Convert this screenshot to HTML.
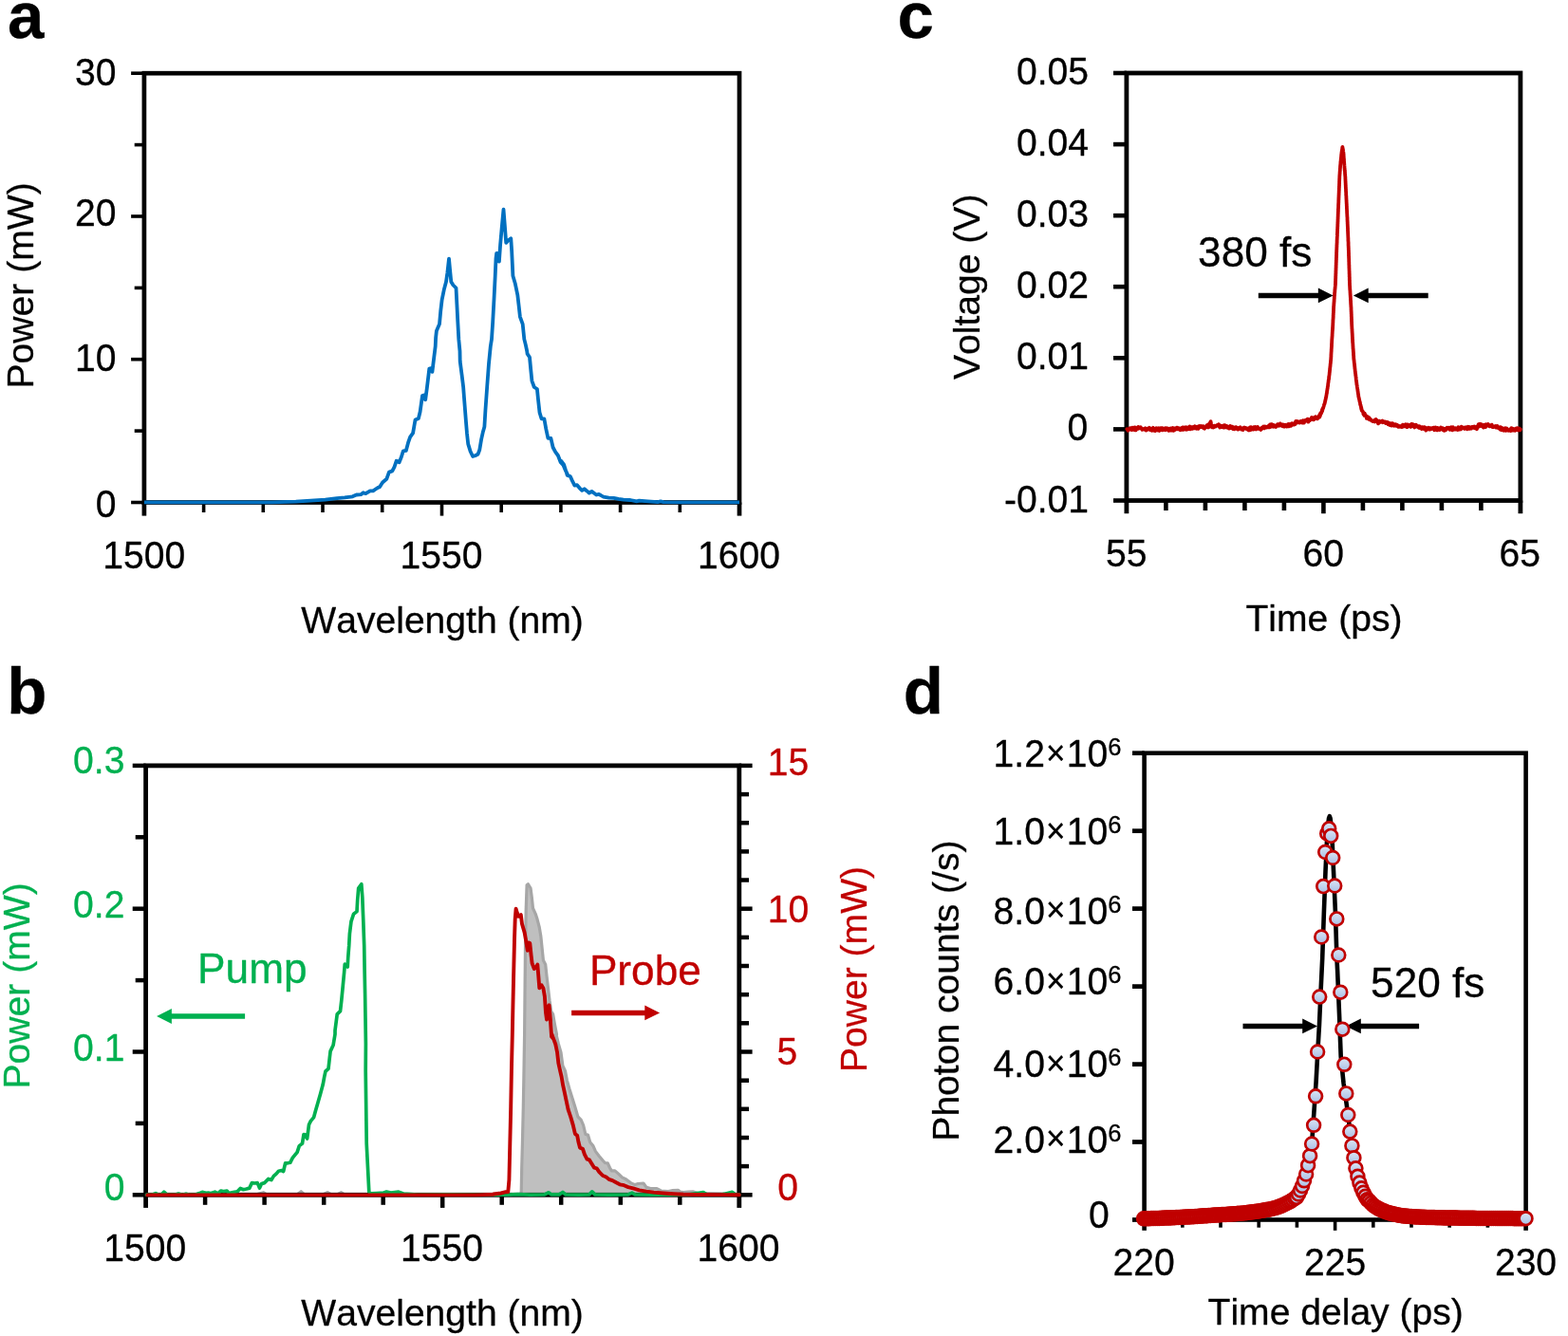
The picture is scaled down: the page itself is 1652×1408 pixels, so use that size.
<!DOCTYPE html>
<html lang="en">
<head>
<meta charset="utf-8">
<title>Figure: pump and probe spectra, pulse measurements</title>
<style>
html,body{margin:0;padding:0;background:#fff;}
body{width:1652px;height:1408px;overflow:hidden;}
svg{display:block;}
svg text{font-family:"Liberation Sans", sans-serif;font-size:39.1px;font-kerning:none;stroke:#000;stroke-width:0.3px;stroke-linejoin:round;}
svg text.pl{font-size:69px;font-weight:bold;}
svg text.an{font-size:44.2px;}
svg tspan.su{font-size:25.5px;}
svg tspan.mu{font-size:35px;}
svg text.g{fill:#00B050;stroke:#00B050;}
svg text.r{fill:#C00000;stroke:#C00000;}
</style>
</head>
<body>
<svg width="1652" height="1408" viewBox="0 0 1652 1408">
<defs>
<linearGradient id="mk" x1="0" y1="0" x2="0" y2="1"><stop offset="0" stop-color="#DCE6F5"/><stop offset="1" stop-color="#A9BFE5"/></linearGradient>
</defs>
<rect width="1652" height="1408" fill="#fff"/>
<g id="panel-a">
<rect x="151.9" y="77.2" width="627.1" height="452.3" fill="none" stroke="#000" stroke-width="4.7"/>
<line x1="138.1" y1="529.5" x2="151.9" y2="529.5" stroke="#000" stroke-width="3.6"/>
<line x1="141.7" y1="454.1" x2="151.9" y2="454.1" stroke="#000" stroke-width="3.6"/>
<line x1="138.1" y1="378.7" x2="151.9" y2="378.7" stroke="#000" stroke-width="3.6"/>
<line x1="141.7" y1="303.4" x2="151.9" y2="303.4" stroke="#000" stroke-width="3.6"/>
<line x1="138.1" y1="228" x2="151.9" y2="228" stroke="#000" stroke-width="3.6"/>
<line x1="141.7" y1="152.6" x2="151.9" y2="152.6" stroke="#000" stroke-width="3.6"/>
<line x1="138.1" y1="77.2" x2="151.9" y2="77.2" stroke="#000" stroke-width="3.6"/>
<line x1="151.9" y1="529.5" x2="151.9" y2="543.6" stroke="#000" stroke-width="4.7"/>
<line x1="214.6" y1="529.5" x2="214.6" y2="540" stroke="#000" stroke-width="3.6"/>
<line x1="277.3" y1="529.5" x2="277.3" y2="540" stroke="#000" stroke-width="3.6"/>
<line x1="340" y1="529.5" x2="340" y2="540" stroke="#000" stroke-width="3.6"/>
<line x1="402.7" y1="529.5" x2="402.7" y2="540" stroke="#000" stroke-width="3.6"/>
<line x1="465.5" y1="529.5" x2="465.5" y2="543.6" stroke="#000" stroke-width="3.6"/>
<line x1="528.2" y1="529.5" x2="528.2" y2="540" stroke="#000" stroke-width="3.6"/>
<line x1="590.9" y1="529.5" x2="590.9" y2="540" stroke="#000" stroke-width="3.6"/>
<line x1="653.6" y1="529.5" x2="653.6" y2="540" stroke="#000" stroke-width="3.6"/>
<line x1="716.3" y1="529.5" x2="716.3" y2="540" stroke="#000" stroke-width="3.6"/>
<line x1="779" y1="529.5" x2="779" y2="543.6" stroke="#000" stroke-width="4.7"/>
<path d="M151.9 529.4 L250 529.4 L286 529.3 L311.7 528.7 L327.2 527.7 L342.6 526.7 L355 525.1 L363.2 524.3 L371.4 523.3 L375.5 521.5 L380.2 521.2 L382.7 519.2 L385.3 520.2 L389.9 517.4 L393 517.4 L396.1 515.3 L398.7 513.6 L400 513.3 L403 508.5 L407.3 504.8 L409.9 497.6 L413.3 496.4 L415.5 492.1 L417.6 485.8 L420.6 487.3 L422.8 481.8 L424.8 475.4 L427.8 474.9 L430 466.7 L432.1 460.6 L435.1 456.4 L437.5 442.5 L440.9 441 L442.6 434 L445 417.1 L446.6 416.5 L448.2 421.3 L449.9 408.6 L452.3 388.6 L454.2 388 L455.4 391.9 L456.9 379.5 L458.7 365 L459.1 356.2 L459.9 348.7 L463 341.6 L464.2 328.3 L465.6 316.2 L467.8 305.3 L470 296.9 L471.4 287.2 L473 272.6 L474.1 284.7 L475.3 296.9 L477.5 300.5 L480.5 303.5 L481.4 321.1 L482.3 339.2 L483.3 357.4 L484.5 370 L484.7 380.7 L486.6 395.3 L488.1 407.4 L489.3 423.1 L490.8 442.5 L492 457 L493.2 467.9 L495.6 475.8 L498.1 481 L500.5 480.3 L503.5 478.8 L505.3 474 L507.1 463.1 L508.7 455.8 L510.4 449.7 L511.4 432.8 L513.2 407.4 L515 383.2 L516.8 365 L518 357.4 L519.2 339.2 L520.5 315 L521.7 290.8 L522.5 272.6 L523.2 266.8 L524.7 267.3 L525.9 275.7 L527.1 258.1 L528.6 241.2 L530.5 220.6 L532 240 L533.2 255.9 L535.6 253.3 L538.3 251.3 L539.2 265.4 L540.4 290.8 L542.9 299.3 L545.3 310.8 L546.5 321.1 L547.9 333.8 L550.7 341.6 L552.3 357.4 L553.8 363.4 L555.2 370 L555.6 372.9 L558 376.5 L559.2 389.2 L560.4 401.3 L562.8 408 L565.9 410 L567.1 421.9 L568.5 434.6 L570.5 441.3 L573.4 441.5 L575.3 452.2 L577.4 461.9 L580.4 461.9 L582.6 471.5 L585.2 476.4 L587.9 480 L590.7 487.3 L593.5 490.3 L596.1 496.4 L598.5 501.2 L591.5 486 L594.1 489.6 L596.2 496.3 L597.7 500.9 L600.8 502 L602.9 506.6 L605.4 511.7 L608 511.2 L610.6 514.3 L613.2 516.9 L615.7 515.3 L618.3 517.4 L620.7 519.5 L623.4 517.9 L626 519.8 L628.3 521.5 L631 520.8 L633.2 522.2 L635.8 523.6 L641.5 524.6 L646.6 524.9 L651.7 525.9 L656.9 526.7 L664.1 527 L670.8 528.4 L673.4 527.7 L682.6 528.4 L692.9 529.2 L696 528.4 L699.1 529.2 L718.6 529.4 L760 529.4 L779 529.4" fill="none" stroke="#0070C0" stroke-width="3.8" stroke-linejoin="round" stroke-linecap="butt"/>
<text x="8" y="40.3" class="pl">a</text>
<text text-anchor="end" transform="translate(122.6 89.6) scale(1 1.035)">30</text>
<text text-anchor="end" transform="translate(122.6 238) scale(1 1.035)">20</text>
<text text-anchor="end" transform="translate(122.6 391.1) scale(1 1.035)">10</text>
<text text-anchor="end" transform="translate(122.6 545.1) scale(1 1.035)">0</text>
<text text-anchor="middle" transform="translate(151.7 599.2) scale(1 1.035)">1500</text>
<text text-anchor="middle" transform="translate(465.1 599.2) scale(1 1.035)">1550</text>
<text text-anchor="middle" transform="translate(778.4 599.2) scale(1 1.035)">1600</text>
<text x="35.4" y="300.9" text-anchor="middle" transform="rotate(-90 35.4 300.9)">Power (mW)</text>
<text x="466.1" y="666.7" text-anchor="middle">Wavelength (nm)</text>
</g>
<g id="panel-c">
<rect x="1186.9" y="77" width="415" height="450.5" fill="none" stroke="#000" stroke-width="4.8"/>
<line x1="1173" y1="527.5" x2="1186.9" y2="527.5" stroke="#000" stroke-width="4.6"/>
<line x1="1173" y1="452.4" x2="1186.9" y2="452.4" stroke="#000" stroke-width="4.6"/>
<line x1="1173" y1="377.3" x2="1186.9" y2="377.3" stroke="#000" stroke-width="4.6"/>
<line x1="1173" y1="302.2" x2="1186.9" y2="302.2" stroke="#000" stroke-width="4.6"/>
<line x1="1173" y1="227.2" x2="1186.9" y2="227.2" stroke="#000" stroke-width="4.6"/>
<line x1="1173" y1="152.1" x2="1186.9" y2="152.1" stroke="#000" stroke-width="4.6"/>
<line x1="1173" y1="77" x2="1186.9" y2="77" stroke="#000" stroke-width="4.6"/>
<line x1="1186.9" y1="527.5" x2="1186.9" y2="541.2" stroke="#000" stroke-width="4.8"/>
<line x1="1228.4" y1="527.5" x2="1228.4" y2="538" stroke="#000" stroke-width="4.6"/>
<line x1="1269.9" y1="527.5" x2="1269.9" y2="538" stroke="#000" stroke-width="4.6"/>
<line x1="1311.4" y1="527.5" x2="1311.4" y2="538" stroke="#000" stroke-width="4.6"/>
<line x1="1352.9" y1="527.5" x2="1352.9" y2="538" stroke="#000" stroke-width="4.6"/>
<line x1="1394.4" y1="527.5" x2="1394.4" y2="541.2" stroke="#000" stroke-width="4.6"/>
<line x1="1435.9" y1="527.5" x2="1435.9" y2="538" stroke="#000" stroke-width="4.6"/>
<line x1="1477.4" y1="527.5" x2="1477.4" y2="538" stroke="#000" stroke-width="4.6"/>
<line x1="1518.9" y1="527.5" x2="1518.9" y2="538" stroke="#000" stroke-width="4.6"/>
<line x1="1560.4" y1="527.5" x2="1560.4" y2="538" stroke="#000" stroke-width="4.6"/>
<line x1="1601.9" y1="527.5" x2="1601.9" y2="541.2" stroke="#000" stroke-width="4.8"/>
<path d="M1187.3 452.2 L1187.9 452.6 L1188.4 453.7 L1189 452.2 L1189.5 452.3 L1190.1 452.5 L1190.6 451.2 L1191.2 452.2 L1191.7 452.5 L1192.3 453 L1192.8 450.8 L1193.4 451.4 L1193.9 450.7 L1194.5 452.9 L1195 452.5 L1195.6 450.4 L1196.1 453.4 L1196.7 453.3 L1197.2 452.3 L1197.8 452.1 L1198.3 450.6 L1198.9 450.1 L1199.4 451.7 L1200 450.2 L1200.6 450.6 L1201.1 450.8 L1201.7 450.2 L1202.2 451.6 L1202.8 451.6 L1203.3 452.9 L1203.9 451.9 L1204.4 452.3 L1205 451.9 L1205.5 452.4 L1206.1 451.8 L1206.6 451.3 L1207.2 453.6 L1207.7 453.6 L1208.3 453.1 L1208.8 452.7 L1209.4 451.5 L1209.9 451.3 L1210.5 451.5 L1211 450.8 L1211.6 453.1 L1212.1 451.9 L1212.7 453.4 L1213.2 452 L1213.8 453.8 L1214.3 453.5 L1214.9 450.8 L1215.4 451.5 L1216 453.8 L1216.5 452.4 L1217.1 454.1 L1217.6 452.2 L1218.2 451.2 L1218.8 453 L1219.3 453.5 L1219.9 451.8 L1220.4 451.2 L1221 452 L1221.5 454 L1222.1 453.4 L1222.6 451.3 L1223.2 451.7 L1223.7 451.2 L1224.3 451.1 L1224.8 453.4 L1225.4 451.5 L1225.9 452.7 L1226.5 452.3 L1227 451.5 L1227.6 453.2 L1228.1 451.3 L1228.7 452.9 L1229.2 451.2 L1229.8 452.2 L1230.3 451.5 L1230.9 451.7 L1231.4 453.9 L1232 453.3 L1232.5 451.7 L1233.1 453.6 L1233.6 451.4 L1234.2 452 L1234.7 453.5 L1235.3 452.8 L1235.8 451 L1236.4 453.9 L1236.9 451.3 L1237.5 451.4 L1238 453 L1238.6 451.6 L1239.1 451.4 L1239.7 450.7 L1240.2 450.7 L1240.8 452.2 L1241.3 451.1 L1241.9 452.2 L1242.4 451.4 L1243 451.6 L1243.5 453.2 L1244.1 451.7 L1244.6 451.9 L1245.2 452.8 L1245.7 450.6 L1246.3 450.4 L1246.8 452.8 L1247.4 452.5 L1247.9 450.6 L1248.5 450.4 L1249 452.1 L1249.6 452.7 L1250.1 450.3 L1250.7 452.6 L1251.2 452.4 L1251.8 451.4 L1252.3 450.8 L1252.9 449.8 L1253.4 449.5 L1254 452.4 L1254.5 450.1 L1255.1 451.5 L1255.6 450.1 L1256.2 451.9 L1256.7 451.1 L1257.3 450.1 L1257.9 449.7 L1258.4 451.4 L1259 449.3 L1259.6 449.8 L1260.1 450.8 L1260.7 451.7 L1261.2 450.9 L1261.8 449.8 L1262.4 451.9 L1262.9 449.5 L1263.5 448.9 L1264 449.7 L1264.6 450.2 L1265.2 449 L1265.7 449.3 L1266.3 449.9 L1266.9 450.5 L1267.4 449.1 L1268 449.8 L1268.5 451.5 L1269.1 451.7 L1269.7 450.6 L1270.2 450.5 L1270.8 450 L1271.3 448.4 L1271.9 448 L1272.5 447.8 L1273 450.5 L1273.6 449.6 L1273.9 449.9 L1274.1 446.3 L1274.4 447.7 L1274.6 446.7 L1274.9 446.9 L1275.1 445 L1275.4 446.6 L1275.6 444.2 L1275.8 446.2 L1276 447.3 L1276.2 448.3 L1276.5 448.3 L1276.7 448.7 L1276.9 449.5 L1277.1 450.4 L1277.3 449.1 L1277.9 450 L1278.4 450.5 L1279 450.3 L1279.5 448.6 L1280.1 449.7 L1280.7 449.7 L1281.2 448.6 L1281.8 448.6 L1282.4 447.9 L1282.9 448.7 L1283.5 448.8 L1284.1 447.3 L1284.6 449.1 L1285.2 450.4 L1285.8 450.1 L1286.3 449.7 L1286.9 448.7 L1287.5 450 L1288.1 449.6 L1288.6 449.2 L1289.2 450.6 L1289.8 448.3 L1290.3 450.5 L1290.9 448.3 L1291.5 450.2 L1292 449.9 L1292.6 449.1 L1293.2 450.7 L1293.7 450.1 L1294.3 450.6 L1294.9 451.6 L1295.5 449.6 L1296 448.9 L1296.6 449.9 L1297.2 451.1 L1297.7 449.7 L1298.3 449.6 L1298.9 452.1 L1299.4 451.3 L1300 450.7 L1300.6 452.2 L1301.1 450.4 L1301.7 451.6 L1302.2 450.1 L1302.8 450.9 L1303.4 452.1 L1303.9 452.5 L1304.5 452.5 L1305.1 450.9 L1305.6 451.6 L1306.2 450.8 L1306.7 450.2 L1307.3 451.4 L1307.9 452.6 L1308.4 452.7 L1309 452.3 L1309.5 453.1 L1310.1 450.9 L1310.7 450.6 L1311.2 451.6 L1311.8 451.1 L1312.4 450.9 L1312.9 451.6 L1313.5 452.3 L1314 451.9 L1314.6 451.4 L1315.1 453.1 L1315.7 453.5 L1316.2 451.7 L1316.8 450.5 L1317.3 450.3 L1317.9 453 L1318.5 450.3 L1319 452.4 L1319.5 451.9 L1320.1 451.1 L1320.6 452.6 L1321.2 450.1 L1321.8 450.4 L1322.3 451.4 L1322.8 450 L1323.4 452.5 L1324 450.6 L1324.5 450.3 L1325 450 L1325.6 451.8 L1326.2 451.3 L1326.7 451.9 L1327.2 452 L1327.8 452.5 L1328.3 453 L1328.9 452.1 L1329.5 450.6 L1330 451.5 L1330.5 450.3 L1331.1 449.6 L1331.6 450.8 L1332.1 451.4 L1332.7 449.5 L1333.2 449.6 L1333.8 449.6 L1334.3 450.6 L1334.8 449.8 L1335.4 449.9 L1335.9 450.2 L1336.4 448.9 L1337 450 L1337.5 450.2 L1338 447.4 L1338.6 450 L1339.1 449.1 L1339.7 447.1 L1340.3 448.2 L1340.9 448.7 L1341.5 449.7 L1342.1 448 L1342.7 448.6 L1343.3 449.7 L1343.9 449.4 L1344.5 449.9 L1345 448.3 L1345.6 448.7 L1346.1 447.1 L1346.7 448.6 L1347.2 448.8 L1347.7 448.1 L1348.3 448.2 L1348.8 446.4 L1349.4 448.5 L1349.9 448.6 L1350.5 448.9 L1351 447.7 L1351.5 448.8 L1352 447.5 L1352.6 449.7 L1353.1 449.7 L1353.6 448.4 L1354.1 447.8 L1354.7 448.8 L1355.2 449.1 L1355.8 449.6 L1356.3 448.6 L1356.9 447.1 L1357.4 449.4 L1358 447 L1358.5 449.2 L1359.1 447.1 L1359.6 447.5 L1360.2 448.8 L1360.7 446.5 L1361.2 446.2 L1361.7 447.1 L1362.2 447.5 L1362.7 447.6 L1363.2 446.9 L1363.7 447.4 L1364.2 445.7 L1364.7 446.9 L1365.2 443.9 L1365.7 444 L1366.2 444.7 L1366.8 443.9 L1367.4 445.3 L1368 445 L1368.6 444.6 L1369.2 445.6 L1369.8 444.6 L1370.4 443.8 L1371.1 444 L1371.7 445.4 L1372.3 445.6 L1372.8 443.2 L1373.4 445.2 L1373.9 445.5 L1374.5 443.9 L1375 444 L1375.6 442.7 L1376.1 443.6 L1376.7 443.4 L1377.2 443.6 L1377.7 441.7 L1378.3 444.6 L1378.8 442.9 L1379.3 442.2 L1379.8 443.3 L1380.4 442.2 L1380.9 441.8 L1381.4 442.1 L1381.9 439.9 L1382.5 441.3 L1383.1 440.8 L1383.7 442.4 L1384.3 442.2 L1384.9 440 L1385.5 440.6 L1386.1 439.3 L1386.7 440.2 L1387.4 441.3 L1388 441.4 L1388.6 439.9 L1389.2 439.2 L1389.5 438.4 L1389.9 439.2 L1390.2 439.7 L1390.5 436.7 L1390.9 438.3 L1391.2 435.4 L1391.6 435.5 L1391.8 435 L1392 435.9 L1392.2 434.2 L1392.5 433.8 L1392.7 434.1 L1392.9 431.9 L1393.1 433.3 L1393.3 430.8 L1393.6 431.5 L1393.8 430.2 L1394 430 L1394.2 429.9 L1394.3 429.2 L1394.5 428.6 L1394.7 428.1 L1394.8 427.7 L1395 426.7 L1395.1 426.2 L1395.3 426.2 L1395.5 425.6 L1395.6 425 L1395.8 424.8 L1395.9 423.9 L1396 423.7 L1396.2 422.4 L1396.3 422.4 L1396.4 421.9 L1396.5 421.5 L1396.7 420.2 L1396.8 419.6 L1396.9 419.8 L1397 418.4 L1397.1 418.8 L1397.3 418.1 L1397.4 416.6 L1397.5 416.2 L1397.6 416.2 L1397.7 415.1 L1397.8 414.3 L1397.9 414.6 L1398 413.5 L1398 413.4 L1398.1 412.1 L1398.2 411.8 L1398.3 411.6 L1398.4 410.2 L1398.5 409.9 L1398.6 409.9 L1398.6 409.6 L1398.7 409.1 L1398.8 407.5 L1398.9 407.4 L1399 407.1 L1399.1 406.3 L1399.1 405.9 L1399.2 404.8 L1399.3 404.1 L1399.4 403.6 L1399.4 403 L1399.5 403 L1399.6 402.4 L1399.6 401.9 L1399.7 400.9 L1399.8 400.4 L1399.9 399.9 L1399.9 400.1 L1400 399.7 L1400.1 399.1 L1400.1 397.5 L1400.2 396.9 L1400.3 397.5 L1400.3 396.3 L1400.4 396.1 L1400.5 395.1 L1400.6 394.7 L1400.6 394.2 L1400.7 393.5 L1400.7 393.2 L1400.8 391.9 L1400.9 392.2 L1400.9 391.8 L1401 390.4 L1401 390.2 L1401.1 390 L1401.1 389 L1401.2 388.2 L1401.3 387.6 L1401.3 387.5 L1401.4 386.3 L1401.4 386.8 L1401.5 386.1 L1401.5 385.5 L1401.6 385.1 L1401.6 384.2 L1401.7 383.4 L1401.8 383.1 L1401.8 382.4 L1401.9 382.4 L1401.9 381.7 L1402 380.4 L1402 380.7 L1402.1 379.9 L1402.1 379.4 L1402.2 378.9 L1402.2 377.8 L1402.3 377.8 L1402.3 377.2 L1402.3 376.5 L1402.4 376 L1402.4 375.4 L1402.4 374.4 L1402.4 374.2 L1402.5 372.9 L1402.5 372.6 L1402.5 372.2 L1402.6 371.1 L1402.6 371 L1402.6 370.7 L1402.7 370.1 L1402.7 369.1 L1402.7 369.4 L1402.7 368.5 L1402.8 367.5 L1402.8 367.4 L1402.8 366.7 L1402.9 366.1 L1402.9 365.3 L1402.9 365.5 L1403 364.5 L1403 364 L1403 363.5 L1403 363.2 L1403.1 361.5 L1403.1 361.6 L1403.1 361.2 L1403.2 360.1 L1403.2 359.7 L1403.2 358.7 L1403.3 358.3 L1403.3 358 L1403.3 357.1 L1403.4 356.7 L1403.4 356.9 L1403.4 355.9 L1403.5 355.3 L1403.5 355.3 L1403.5 354.2 L1403.6 354.2 L1403.6 353.2 L1403.6 352.8 L1403.7 351.4 L1403.7 351.4 L1403.7 351.1 L1403.8 349.6 L1403.8 350.1 L1403.8 348.6 L1403.9 348.5 L1403.9 347.5 L1404 347.3 L1404 346.9 L1404 345.7 L1404.1 346.2 L1404.1 345 L1404.1 344.6 L1404.2 344.1 L1404.2 343.2 L1404.2 342.6 L1404.3 342.4 L1404.3 341.8 L1404.3 340.9 L1404.3 340.8 L1404.4 339.8 L1404.4 338.8 L1404.4 338.6 L1404.4 337.7 L1404.5 337.3 L1404.5 337.5 L1404.5 336.5 L1404.5 336.5 L1404.6 335.8 L1404.6 334.4 L1404.6 334.9 L1404.7 334.3 L1404.7 332.7 L1404.7 333.1 L1404.7 332 L1404.8 331.5 L1404.8 331.5 L1404.8 330.1 L1404.8 329.8 L1404.9 329.8 L1404.9 328.9 L1404.9 328.1 L1404.9 328.1 L1405 327.4 L1405 326.5 L1405 325.4 L1405 325.4 L1405.1 324.7 L1405.1 323.8 L1405.1 323.1 L1405.2 323.1 L1405.2 322 L1405.3 321.9 L1405.3 321.6 L1405.3 320.8 L1405.4 320 L1405.4 319.8 L1405.4 319 L1405.5 318.9 L1405.5 318.1 L1405.5 318.1 L1405.6 317.4 L1405.6 316.6 L1405.7 315.5 L1405.7 314.8 L1405.7 315.1 L1405.8 314.5 L1405.8 313.7 L1405.8 312.8 L1405.9 312.2 L1405.9 312.1 L1406 311.4 L1406 310.9 L1406 310.4 L1406.1 310 L1406.1 308.7 L1406.2 308.2 L1406.2 308.5 L1406.3 307.9 L1406.3 307.3 L1406.4 305.7 L1406.4 305.2 L1406.5 304.8 L1406.5 304.5 L1406.6 304.1 L1406.6 302.9 L1406.7 302.9 L1406.7 301.8 L1406.8 301.2 L1406.8 301.3 L1406.9 300.6 L1406.9 300.2 L1406.9 299.3 L1407 298.9 L1407 298 L1407 297.6 L1407 297.5 L1407 297.1 L1407.1 295.6 L1407.1 295.1 L1407.1 295.4 L1407.1 294.6 L1407.1 294.2 L1407.2 293 L1407.2 292.7 L1407.2 291.9 L1407.2 292 L1407.2 291 L1407.3 290.7 L1407.3 290.6 L1407.3 289.2 L1407.3 288.9 L1407.3 288.6 L1407.4 288.3 L1407.4 287.1 L1407.4 286.5 L1407.4 285.6 L1407.4 286 L1407.5 284.5 L1407.5 283.9 L1407.5 284 L1407.5 283.3 L1407.5 283 L1407.6 282 L1407.6 282 L1407.6 280.6 L1407.6 280.2 L1407.6 280.2 L1407.7 278.9 L1407.7 278.7 L1407.7 278.6 L1407.7 278 L1407.7 277 L1407.8 276.2 L1407.8 275.9 L1407.8 275.8 L1407.8 274.8 L1407.8 274 L1407.9 274.1 L1407.9 273.4 L1407.9 273.3 L1407.9 272.8 L1407.9 272.2 L1408 271 L1408 270.9 L1408 269.8 L1408 269.2 L1408 268.8 L1408.1 268.9 L1408.1 268.3 L1408.1 266.9 L1408.1 266.5 L1408.1 265.9 L1408.2 265.4 L1408.2 264.9 L1408.2 264.3 L1408.2 263.5 L1408.2 263.4 L1408.3 263.1 L1408.3 262.3 L1408.3 262.1 L1408.3 261.2 L1408.4 260.2 L1408.4 260.3 L1408.4 259.9 L1408.4 258.6 L1408.4 257.7 L1408.5 257.8 L1408.5 257.3 L1408.5 256.7 L1408.5 256.6 L1408.6 255.7 L1408.6 255.3 L1408.6 253.9 L1408.6 253.9 L1408.6 253.6 L1408.7 252.2 L1408.7 251.7 L1408.7 251.9 L1408.7 251.6 L1408.8 250 L1408.8 250.1 L1408.8 249 L1408.8 249.1 L1408.9 248.5 L1408.9 247.4 L1408.9 246.8 L1408.9 246.9 L1408.9 246.1 L1409 245.8 L1409 244.8 L1409 244.2 L1409 244.4 L1409.1 243.5 L1409.1 242.7 L1409.1 242.2 L1409.1 241.9 L1409.1 241.3 L1409.2 241 L1409.2 239.8 L1409.2 239.8 L1409.2 239 L1409.3 238.7 L1409.3 238.1 L1409.3 237.5 L1409.3 237.1 L1409.3 236.6 L1409.4 235.6 L1409.4 234.9 L1409.4 234.6 L1409.4 234.2 L1409.5 233.2 L1409.5 232.6 L1409.5 231.7 L1409.5 231.9 L1409.5 231.6 L1409.6 230.3 L1409.6 229.5 L1409.6 229 L1409.6 228.7 L1409.7 228 L1409.7 228.2 L1409.7 226.6 L1409.7 226.3 L1409.7 225.5 L1409.8 225.6 L1409.8 225.2 L1409.8 224 L1409.8 223.3 L1409.9 223.2 L1409.9 222.8 L1409.9 222.6 L1409.9 221 L1409.9 220.5 L1410 220.1 L1410 219.5 L1410 219 L1410 219 L1410.1 218.3 L1410.1 217.3 L1410.1 216.7 L1410.1 216.3 L1410.1 215.6 L1410.2 215.7 L1410.2 214.6 L1410.2 214.4 L1410.2 214.1 L1410.3 213.2 L1410.3 212.4 L1410.3 212.5 L1410.3 212 L1410.3 210.8 L1410.4 210.5 L1410.4 210.4 L1410.4 209.3 L1410.4 208.4 L1410.5 207.6 L1410.5 208.2 L1410.5 207.4 L1410.5 206.4 L1410.5 206 L1410.6 205.4 L1410.6 204.6 L1410.6 204.9 L1410.6 203.9 L1410.7 202.9 L1410.7 202.1 L1410.7 202.1 L1410.7 201.4 L1410.7 201.3 L1410.8 200.7 L1410.8 200 L1410.8 198.9 L1410.8 198.3 L1410.9 198 L1410.9 197.4 L1410.9 197.5 L1410.9 196.6 L1410.9 196.2 L1411 196 L1411 194.6 L1411 194.4 L1411 193.4 L1411.1 193.5 L1411.1 192.1 L1411.1 192.5 L1411.1 192 L1411.1 191.4 L1411.2 189.9 L1411.2 189.6 L1411.2 189.6 L1411.2 188.3 L1411.3 188.2 L1411.3 187.6 L1411.3 187.7 L1411.3 186.7 L1411.3 186.4 L1411.4 185.2 L1411.4 185.2 L1411.4 184.2 L1411.5 184.3 L1411.5 182.7 L1411.6 183 L1411.6 181.7 L1411.6 181.5 L1411.7 180.9 L1411.7 179.9 L1411.8 180.2 L1411.8 179 L1411.8 178.4 L1411.9 177.6 L1411.9 177.3 L1412 176.9 L1412 176.6 L1412 175.6 L1412.1 175.5 L1412.1 174.2 L1412.2 174 L1412.2 173.5 L1412.3 173.5 L1412.3 172.8 L1412.4 172 L1412.4 170.7 L1412.5 170.5 L1412.6 170.4 L1412.6 169.2 L1412.7 169.1 L1412.7 168.4 L1412.8 167.3 L1412.8 167.9 L1412.9 167.1 L1413 165.8 L1413 165.7 L1413.1 164.7 L1413.1 164.3 L1413.2 163.9 L1413.2 163.1 L1413.3 162.5 L1413.4 162 L1413.4 161.8 L1413.5 160.7 L1413.6 160.1 L1413.7 160.2 L1413.7 159.1 L1413.8 159.3 L1413.9 158.3 L1414 157.9 L1414.1 156.8 L1414.2 156.9 L1414.3 155.4 L1414.4 154.9 L1414.5 155.4 L1414.7 156.7 L1414.8 157.3 L1414.9 157.2 L1415 158.1 L1415.1 159.2 L1415.1 159.4 L1415.2 159.4 L1415.3 160.1 L1415.4 160.6 L1415.4 161.1 L1415.5 162 L1415.6 162.2 L1415.6 163.8 L1415.6 163.8 L1415.7 164.4 L1415.7 165.2 L1415.8 165.9 L1415.8 166.5 L1415.8 166.6 L1415.9 167.1 L1415.9 167.7 L1416 167.8 L1416 168.9 L1416 169.8 L1416.1 170.7 L1416.1 171 L1416.2 171.4 L1416.2 171.9 L1416.2 171.8 L1416.3 172.8 L1416.3 173.3 L1416.4 174.3 L1416.4 174.2 L1416.5 175.1 L1416.5 175.8 L1416.5 176.7 L1416.6 177.3 L1416.6 177.6 L1416.7 177.7 L1416.7 179 L1416.8 179.7 L1416.8 179.8 L1416.9 180.2 L1416.9 180.9 L1417 181 L1417 182.3 L1417 183.2 L1417.1 183.2 L1417.1 184 L1417.2 184.7 L1417.2 184.5 L1417.3 186 L1417.3 186.2 L1417.3 186.2 L1417.4 186.6 L1417.4 187.4 L1417.4 188.3 L1417.4 189 L1417.5 189.1 L1417.5 190.4 L1417.5 190.3 L1417.5 191 L1417.6 191.1 L1417.6 192.7 L1417.6 192.2 L1417.7 193.7 L1417.7 193.8 L1417.7 194.4 L1417.7 195 L1417.8 195.1 L1417.8 196.5 L1417.8 197.1 L1417.9 197.5 L1417.9 197.8 L1417.9 197.8 L1417.9 199.1 L1418 199.1 L1418 200.3 L1418 200.1 L1418 201.1 L1418.1 201.9 L1418.1 201.7 L1418.1 202.7 L1418.2 202.7 L1418.2 203.2 L1418.2 203.9 L1418.2 205.4 L1418.3 205.9 L1418.3 206.2 L1418.3 206.3 L1418.4 207.3 L1418.4 207.9 L1418.4 208 L1418.4 208.8 L1418.5 209.7 L1418.5 209.3 L1418.5 210 L1418.5 210.9 L1418.6 211.1 L1418.6 211.9 L1418.6 212.7 L1418.6 212.8 L1418.7 213.8 L1418.7 214 L1418.7 214.9 L1418.8 215.2 L1418.8 216.2 L1418.8 216 L1418.8 217.3 L1418.9 217.2 L1418.9 218.8 L1418.9 218.9 L1418.9 219.3 L1419 219.8 L1419 220.6 L1419 221.2 L1419.1 221.9 L1419.1 222.4 L1419.1 222.6 L1419.1 223.8 L1419.2 224.2 L1419.2 224.8 L1419.2 224.8 L1419.2 225.4 L1419.3 226.1 L1419.3 227.1 L1419.3 227.2 L1419.3 227.7 L1419.4 228.2 L1419.4 229.3 L1419.4 229.1 L1419.5 229.4 L1419.5 230.7 L1419.5 231.5 L1419.5 231.9 L1419.6 232.3 L1419.6 233 L1419.6 233 L1419.6 233.9 L1419.7 233.8 L1419.7 234.5 L1419.7 235.4 L1419.7 236 L1419.8 236.5 L1419.8 236.6 L1419.8 237.9 L1419.8 238.3 L1419.9 238.5 L1419.9 239.1 L1419.9 239.8 L1419.9 240.2 L1420 240.5 L1420 242.1 L1420 242.7 L1420 242.9 L1420 243.7 L1420.1 243.7 L1420.1 244.8 L1420.1 244.6 L1420.1 245.8 L1420.2 246.1 L1420.2 247.1 L1420.2 246.7 L1420.2 248.1 L1420.2 247.8 L1420.3 248.9 L1420.3 249.9 L1420.3 249.4 L1420.3 250.2 L1420.4 250.8 L1420.4 251.4 L1420.4 251.7 L1420.4 253.2 L1420.4 253.7 L1420.5 253.7 L1420.5 254.2 L1420.5 255.1 L1420.5 255 L1420.6 255.5 L1420.6 257.1 L1420.6 257 L1420.6 257.8 L1420.6 258.8 L1420.7 259.4 L1420.7 259.4 L1420.7 259.6 L1420.7 260.3 L1420.8 261.6 L1420.8 262.1 L1420.8 261.8 L1420.8 263.2 L1420.8 263.2 L1420.9 263.9 L1420.9 264 L1420.9 265.5 L1420.9 266.2 L1420.9 265.8 L1421 266.8 L1421 266.9 L1421 268.2 L1421 267.8 L1421 268.4 L1421 269.7 L1421.1 269.8 L1421.1 271 L1421.1 271.6 L1421.1 271.9 L1421.1 271.8 L1421.2 273 L1421.2 273.9 L1421.2 273.8 L1421.2 273.9 L1421.2 274.7 L1421.2 275.3 L1421.3 276.4 L1421.3 276.3 L1421.3 276.8 L1421.3 277.5 L1421.3 278.5 L1421.3 279.2 L1421.4 279.3 L1421.4 280.2 L1421.4 281 L1421.4 281.2 L1421.4 281.3 L1421.4 282 L1421.5 283.3 L1421.5 283.5 L1421.5 283.6 L1421.5 284.6 L1421.5 284.5 L1421.6 286.1 L1421.6 286 L1421.6 286.7 L1421.6 287.3 L1421.6 287.2 L1421.6 288.5 L1421.7 288.6 L1421.7 289.1 L1421.7 290.4 L1421.7 290.1 L1421.7 290.9 L1421.7 292 L1421.8 291.9 L1421.8 292.5 L1421.8 293.4 L1421.8 293.5 L1421.8 294.9 L1421.8 295.6 L1421.9 295 L1421.9 296.1 L1421.9 297 L1421.9 297.1 L1421.9 298.3 L1422 298.3 L1422 298.5 L1422 299.5 L1422 300.2 L1422 300.4 L1422.1 301.3 L1422.1 302.1 L1422.1 302.3 L1422.2 302.9 L1422.2 303.9 L1422.2 304.2 L1422.3 304.6 L1422.3 305.7 L1422.4 305.4 L1422.4 306.7 L1422.4 306.5 L1422.5 307.6 L1422.5 307.7 L1422.5 308.6 L1422.6 309.5 L1422.6 310.1 L1422.6 310.7 L1422.7 310.6 L1422.7 311.5 L1422.7 311.7 L1422.8 312.7 L1422.8 313.2 L1422.8 313.2 L1422.9 314.5 L1422.9 315.2 L1422.9 315.6 L1423 316.5 L1423 316.3 L1423 316.8 L1423.1 317.2 L1423.1 318.4 L1423.1 318.9 L1423.2 319.5 L1423.2 319.8 L1423.2 321.1 L1423.3 320.8 L1423.3 322.3 L1423.4 322.5 L1423.4 323.1 L1423.4 323.9 L1423.5 323.8 L1423.5 324.3 L1423.5 325.1 L1423.5 325.3 L1423.5 326.2 L1423.6 327.1 L1423.6 327.6 L1423.6 327.8 L1423.6 328.8 L1423.7 328.7 L1423.7 330.2 L1423.7 330 L1423.7 330.6 L1423.8 331.1 L1423.8 332.3 L1423.8 333 L1423.8 333.5 L1423.8 333.2 L1423.9 334.2 L1423.9 334.7 L1423.9 335.1 L1423.9 336.6 L1424 336.1 L1424 337.2 L1424 338 L1424 338.9 L1424 338.4 L1424.1 339.4 L1424.1 340.3 L1424.1 340 L1424.1 340.8 L1424.2 342.2 L1424.2 341.8 L1424.2 342.7 L1424.2 343.1 L1424.3 343.9 L1424.3 344 L1424.3 344.5 L1424.4 346.3 L1424.4 346.5 L1424.4 347.1 L1424.5 347 L1424.5 347.6 L1424.5 348.5 L1424.5 348.7 L1424.6 349.6 L1424.6 350.7 L1424.6 350.6 L1424.7 351.1 L1424.7 352.5 L1424.7 352.6 L1424.8 352.5 L1424.8 353.5 L1424.8 354.3 L1424.8 354.2 L1424.9 355.1 L1424.9 356.1 L1424.9 356.8 L1425 357.1 L1425 358 L1425 358.1 L1425.1 358.5 L1425.1 359.7 L1425.1 359.7 L1425.1 360.7 L1425.2 360.6 L1425.2 361.3 L1425.3 361.6 L1425.3 362.6 L1425.3 362.7 L1425.4 363.3 L1425.4 363.9 L1425.4 364.7 L1425.5 365.1 L1425.5 365.8 L1425.5 367 L1425.6 367.2 L1425.6 367.9 L1425.7 367.7 L1425.7 368.5 L1425.7 368.6 L1425.8 369.9 L1425.8 370.1 L1425.8 370.5 L1425.9 370.8 L1425.9 371.5 L1426 372.2 L1426 372.9 L1426 374.1 L1426.1 374.4 L1426.1 374.4 L1426.1 375 L1426.2 375.3 L1426.2 376.8 L1426.2 376.7 L1426.3 377.7 L1426.3 378.2 L1426.4 379 L1426.4 378.5 L1426.5 379.4 L1426.5 380 L1426.6 380.2 L1426.7 381.7 L1426.7 381.6 L1426.8 382.7 L1426.8 382.9 L1426.9 382.9 L1427 383.9 L1427 384.3 L1427.1 384.6 L1427.1 385.3 L1427.2 386.3 L1427.3 386.2 L1427.3 387.1 L1427.4 387.8 L1427.4 388.5 L1427.5 388.6 L1427.6 389.8 L1427.6 389.8 L1427.7 390.9 L1427.7 391.4 L1427.8 391.3 L1427.9 392 L1427.9 392.6 L1428 393.7 L1428.1 393.9 L1428.2 394.4 L1428.2 395.5 L1428.3 395.3 L1428.4 396 L1428.4 396.6 L1428.5 397 L1428.6 397.3 L1428.6 397.9 L1428.7 399.2 L1428.8 399.6 L1428.8 400.5 L1428.9 401.3 L1429 401 L1429.1 402 L1429.1 402.9 L1429.2 402.6 L1429.3 403.7 L1429.3 404.2 L1429.4 405.1 L1429.5 405.6 L1429.5 405.4 L1429.6 406.4 L1429.7 406.3 L1429.8 407.3 L1429.9 407.8 L1429.9 407.9 L1430 408.9 L1430.1 409.3 L1430.2 410.1 L1430.3 410.4 L1430.4 410.8 L1430.4 411.6 L1430.5 412.3 L1430.6 412.4 L1430.7 413.6 L1430.8 413.6 L1430.8 414 L1430.9 414.8 L1431 415.5 L1431.1 415.7 L1431.2 416.8 L1431.3 417.5 L1431.3 417.8 L1431.4 418.6 L1431.5 418.3 L1431.7 419.3 L1431.8 419.8 L1431.9 420 L1432 420.9 L1432.1 421 L1432.3 422.1 L1432.4 422.7 L1432.5 423.1 L1432.6 423.5 L1432.8 423.9 L1432.9 424.2 L1433 425.1 L1433.1 426.3 L1433.2 426.5 L1433.4 426.6 L1433.5 427.7 L1433.6 427 L1433.8 428.4 L1434 429.5 L1434.2 431.1 L1434.3 429.7 L1434.5 431 L1434.7 432.7 L1434.9 432.7 L1435.1 432.8 L1435.3 433.3 L1435.5 433.2 L1435.7 433.8 L1436 433.8 L1436.3 436.1 L1436.7 436.8 L1437 435.7 L1437.4 437.9 L1437.7 435.7 L1438.1 436.5 L1438.5 438.1 L1438.9 437.9 L1439.4 438.5 L1439.8 440.9 L1440.2 438.7 L1440.7 439.3 L1441.1 439.8 L1441.6 441.6 L1442.1 440.5 L1442.5 440.2 L1443 442.3 L1443.5 442.1 L1444.1 441.9 L1444.7 442.9 L1445.3 443.7 L1445.9 443.6 L1446.5 444.1 L1447.1 443.6 L1447.7 444.3 L1448.3 444.5 L1448.9 442.2 L1449.5 442 L1449.9 444.1 L1450.3 442.7 L1450.7 444.4 L1451.1 444.7 L1451.5 445.1 L1452 446.4 L1452.6 445.8 L1453.2 443.6 L1453.8 445 L1454.4 444.5 L1455 444.7 L1455.6 444 L1456.2 443.6 L1456.7 445.3 L1457.2 444.9 L1457.8 444.1 L1458.3 444.4 L1458.8 444.9 L1459.3 444.6 L1459.9 445.9 L1460.4 444.9 L1460.9 444.8 L1461.5 445 L1462 445.2 L1462.5 447.3 L1463.1 445.5 L1463.6 446.7 L1464.2 447.9 L1464.7 447.1 L1465.2 446.2 L1465.8 448.6 L1466.4 448.6 L1467 446.1 L1467.6 446.8 L1468.3 447.7 L1468.9 448.7 L1469.5 447.5 L1470.1 448.6 L1470.6 447.3 L1471.1 448.9 L1471.7 447.8 L1472.2 447.9 L1472.7 449.4 L1473.3 449.8 L1473.8 449.9 L1474.4 449.2 L1474.9 448.9 L1475.5 449.7 L1476.1 449.4 L1476.7 450.1 L1477.3 449.9 L1477.9 447.7 L1478.5 448.5 L1479.1 449.4 L1479.7 448 L1480.3 447.8 L1480.9 447.2 L1481.5 449 L1482 450.1 L1482.6 450.1 L1483.1 447.4 L1483.7 449.1 L1484.2 448.2 L1484.8 448.9 L1485.3 448.1 L1485.9 449.7 L1486.4 449.9 L1487 446.8 L1487.5 449.1 L1488.1 447.3 L1488.6 447.1 L1489.2 448 L1489.7 449.6 L1490.3 450.5 L1490.8 447.8 L1491.4 448.6 L1491.9 447.7 L1492.5 449.5 L1493 449.4 L1493.5 449.2 L1494.1 449.1 L1494.6 450.8 L1495.2 451 L1495.7 449.3 L1496.2 449.8 L1496.8 450.6 L1497.3 451.2 L1497.9 452 L1498.4 450.2 L1498.9 451.3 L1499.5 451 L1500 451.9 L1500.6 450.1 L1501.2 450.5 L1501.7 450.6 L1502.3 453.6 L1502.9 451.7 L1503.5 452.4 L1504 451.2 L1504.6 451.8 L1505.1 450.8 L1505.7 452.5 L1506.2 451.1 L1506.8 452.6 L1507.4 451.5 L1507.9 451.3 L1508.5 452.1 L1509 451.7 L1509.6 451.3 L1510.2 450.6 L1510.7 450.6 L1511.3 453.2 L1511.8 451.3 L1512.4 450.5 L1512.9 450.8 L1513.5 451.7 L1514.1 453.4 L1514.6 450.9 L1515.2 453 L1515.7 451.8 L1516.3 451.6 L1516.9 452.9 L1517.4 451.6 L1518 450.5 L1518.5 452.1 L1519.1 452.5 L1519.7 452.4 L1520.2 451.3 L1520.8 453.5 L1521.3 453.2 L1521.9 453.7 L1522.5 451.9 L1523 453.2 L1523.6 452.9 L1524.1 451.1 L1524.7 450.7 L1525.3 451.1 L1525.8 450.9 L1526.4 450.7 L1526.9 451.6 L1527.5 452.8 L1528 451.4 L1528.6 452 L1529.1 450.3 L1529.7 450.9 L1530.2 453.3 L1530.8 450.2 L1531.3 451.8 L1531.9 452.7 L1532.4 452.6 L1533 452.4 L1533.5 451.2 L1534.1 452.5 L1534.6 452.5 L1535.2 452.3 L1535.7 453 L1536.3 450.1 L1536.8 452.8 L1537.4 451 L1537.9 451.9 L1538.5 450.4 L1539 452.5 L1539.6 449.6 L1540.1 451.3 L1540.7 450.2 L1541.2 450.7 L1541.8 450.6 L1542.3 451.4 L1542.9 451.9 L1543.5 450.5 L1544 451.4 L1544.6 450.5 L1545.1 450.2 L1545.7 452.3 L1546.2 450.4 L1546.8 449.7 L1547.3 450.5 L1547.9 451.8 L1548.4 450.1 L1549 451.8 L1549.5 451.2 L1550.1 451.6 L1550.6 450 L1551.2 449.8 L1551.7 450 L1552.3 450.6 L1552.8 450.9 L1553.4 449.6 L1553.9 451.2 L1554.5 450.9 L1555 450.6 L1555.6 451.3 L1555.9 452.2 L1556.3 449.3 L1556.7 451 L1557 448.7 L1557.3 449.6 L1557.7 447.1 L1558.1 449.4 L1558.4 447.2 L1559 449.1 L1559.5 446.9 L1560.1 447.7 L1560.7 448.9 L1561.2 447.4 L1561.8 447.9 L1562.3 449.5 L1562.9 450.5 L1563.5 448.4 L1564 447.8 L1564.6 448.3 L1565.1 450.1 L1565.7 447.3 L1566.2 448.8 L1566.8 447.8 L1567.3 448.5 L1567.9 447 L1568.4 448.2 L1569 449.2 L1569.5 449.3 L1570.1 448.7 L1570.6 448.5 L1571.2 448.9 L1571.7 447.6 L1572.3 450.1 L1572.8 449.8 L1573.4 449.2 L1573.9 450 L1574.5 449.4 L1575 449.5 L1575.6 449.1 L1576.1 450.5 L1576.7 450.5 L1577.2 450.5 L1577.7 449 L1578.3 451.1 L1578.8 450.6 L1579.3 451.2 L1579.9 451.4 L1580.4 452.6 L1581 450.2 L1581.5 451.4 L1582 453.2 L1582.6 452.5 L1583.1 451.3 L1583.6 452.8 L1584.2 453.7 L1584.7 452 L1585.3 453.5 L1585.8 451.1 L1586.4 453.9 L1587 452.3 L1587.6 451.5 L1588.1 453.5 L1588.7 452.9 L1589.3 453.8 L1589.9 453.5 L1590.4 453.4 L1591 452.5 L1591.6 454.1 L1592.2 451.1 L1592.7 453.7 L1593.3 453.2 L1593.9 451.8 L1594.5 453.6 L1595 452.4 L1595.6 452.7 L1596.2 453.8 L1596.7 451.6 L1597.3 451.8 L1597.9 453 L1598.5 451.1 L1599 452.7 L1599.6 453.4 L1600.2 452.4 L1600.8 451.6 L1601.3 453.4 L1601.9 452.4" fill="none" stroke="#C00000" stroke-width="3.8" stroke-linejoin="round" stroke-linecap="round"/>
<path d="M1325.8 311.4H1389.8" stroke="#000" stroke-width="5.5" fill="none"/>
<path d="M1404.6 311.4L1388.8 303.5L1388.8 319.3Z" fill="#000"/>
<path d="M1504.7 311.4H1440.7" stroke="#000" stroke-width="5.5" fill="none"/>
<path d="M1425.9 311.4L1441.7 303.5L1441.7 319.3Z" fill="#000"/>
<text x="945.5" y="40.2" class="pl">c</text>
<text text-anchor="end" transform="translate(1147 89.1) scale(1 1.035)">0.05</text>
<text text-anchor="end" transform="translate(1147 164.1) scale(1 1.035)">0.04</text>
<text text-anchor="end" transform="translate(1147 239.2) scale(1 1.035)">0.03</text>
<text text-anchor="end" transform="translate(1147 314.1) scale(1 1.035)">0.02</text>
<text text-anchor="end" transform="translate(1147 389.2) scale(1 1.035)">0.01</text>
<text text-anchor="end" transform="translate(1146.2 464.2) scale(1 1.035)">0</text>
<text text-anchor="end" transform="translate(1147 539.6) scale(1 1.035)">-0.01</text>
<text text-anchor="middle" transform="translate(1186.8 596.9) scale(1 1.035)">55</text>
<text text-anchor="middle" transform="translate(1394.2 596.9) scale(1 1.035)">60</text>
<text text-anchor="middle" transform="translate(1601.3 596.9) scale(1 1.035)">65</text>
<text class="an" transform="translate(1262.1 281.2) scale(1 1.015)">380 fs</text>
<text x="1032.5" y="302.3" text-anchor="middle" transform="rotate(-90 1032.5 302.3)">Voltage (V)</text>
<text x="1395" y="664.8" text-anchor="middle">Time (ps)</text>
</g>
<g id="panel-b">
<path d="M548.5 1259.3 L549.2 1256.2 L549.7 1230.7 L550.4 1205.1 L551.3 1166.7 L552 1128.4 L552.6 1090 L553 1047.8 L553.5 996.7 L554.2 958.3 L555.1 932.8 L556.4 931.8 L559 936 L560.3 945.6 L561.5 957.1 L564.1 962.8 L566 968.6 L568.3 977.5 L569.8 986.5 L571.1 999.2 L572.4 1012 L574.7 1016.5 L576 1028.6 L577.5 1041.4 L579 1054.2 L580.7 1065.7 L582.6 1068.9 L584.5 1079.7 L586.5 1090 L585.9 1090 L588.4 1100.2 L591 1109.2 L592.9 1123.2 L595.4 1128.4 L597.4 1138.6 L599.9 1147.5 L603.1 1157.8 L605.9 1166.7 L608.9 1177 L612.1 1180.2 L614.6 1185.9 L616.9 1195.5 L619.5 1196.1 L621.7 1203.8 L624.9 1207.6 L627.4 1213.4 L631.3 1218.5 L635.1 1223 L637.4 1225.5 L640.2 1225.8 L642.5 1230.7 L644.3 1233.9 L647.9 1233.9 L651.7 1237.1 L655.5 1240.9 L659.4 1242.8 L664.5 1246.6 L669 1248.6 L672.2 1247.5 L677.9 1247 L681.1 1251.4 L686.2 1252.7 L692 1252.7 L696.5 1255 L704.1 1255.6 L708 1254.7 L714.4 1254.3 L716.9 1256.2 L720 1256.5 L725 1256.2 L730 1255.8 L735.5 1257.5 L745 1257.8 L760 1258.2 L778.8 1258.6 L778.8 1259.3" fill="#BFBFBF" stroke="#A6A6A6" stroke-width="3.2" stroke-linejoin="round"/>
<path d="M153.6 1258.8 L270 1258.8 L277.5 1256.6 L281 1258.8 L313 1258.8 L317.2 1255.6 L321 1258.8 L340 1258.8 L345.3 1256.4 L349 1258.8 L355 1258.8 L359.4 1256.6 L363 1258.8 L402 1258.8 L407.3 1256.2 L411 1258.8 L548 1258.8" fill="none" stroke="#A6A6A6" stroke-width="3" stroke-linejoin="round"/>
<rect x="153.6" y="806.9" width="625.2" height="452.4" fill="none" stroke="#000" stroke-width="4.8"/>
<line x1="139.7" y1="1259.3" x2="153.6" y2="1259.3" stroke="#000" stroke-width="4.5"/>
<line x1="142.7" y1="1183.9" x2="153.6" y2="1183.9" stroke="#000" stroke-width="4.5"/>
<line x1="139.7" y1="1108.5" x2="153.6" y2="1108.5" stroke="#000" stroke-width="4.5"/>
<line x1="142.7" y1="1033.1" x2="153.6" y2="1033.1" stroke="#000" stroke-width="4.5"/>
<line x1="139.7" y1="957.7" x2="153.6" y2="957.7" stroke="#000" stroke-width="4.5"/>
<line x1="142.7" y1="882.3" x2="153.6" y2="882.3" stroke="#000" stroke-width="4.5"/>
<line x1="139.7" y1="806.9" x2="153.6" y2="806.9" stroke="#000" stroke-width="4.5"/>
<line x1="778.8" y1="1259.3" x2="792.6" y2="1259.3" stroke="#000" stroke-width="4.5"/>
<line x1="778.8" y1="1229.1" x2="789" y2="1229.1" stroke="#000" stroke-width="4.5"/>
<line x1="778.8" y1="1199" x2="789" y2="1199" stroke="#000" stroke-width="4.5"/>
<line x1="778.8" y1="1168.8" x2="789" y2="1168.8" stroke="#000" stroke-width="4.5"/>
<line x1="778.8" y1="1138.7" x2="789" y2="1138.7" stroke="#000" stroke-width="4.5"/>
<line x1="778.8" y1="1108.5" x2="792.6" y2="1108.5" stroke="#000" stroke-width="4.5"/>
<line x1="778.8" y1="1078.3" x2="789" y2="1078.3" stroke="#000" stroke-width="4.5"/>
<line x1="778.8" y1="1048.2" x2="789" y2="1048.2" stroke="#000" stroke-width="4.5"/>
<line x1="778.8" y1="1018" x2="789" y2="1018" stroke="#000" stroke-width="4.5"/>
<line x1="778.8" y1="987.9" x2="789" y2="987.9" stroke="#000" stroke-width="4.5"/>
<line x1="778.8" y1="957.7" x2="792.6" y2="957.7" stroke="#000" stroke-width="4.5"/>
<line x1="778.8" y1="927.5" x2="789" y2="927.5" stroke="#000" stroke-width="4.5"/>
<line x1="778.8" y1="897.4" x2="789" y2="897.4" stroke="#000" stroke-width="4.5"/>
<line x1="778.8" y1="867.2" x2="789" y2="867.2" stroke="#000" stroke-width="4.5"/>
<line x1="778.8" y1="837.1" x2="789" y2="837.1" stroke="#000" stroke-width="4.5"/>
<line x1="778.8" y1="806.9" x2="792.6" y2="806.9" stroke="#000" stroke-width="4.5"/>
<line x1="153.6" y1="1259.3" x2="153.6" y2="1272.9" stroke="#000" stroke-width="4.8"/>
<line x1="216.1" y1="1259.3" x2="216.1" y2="1269.8" stroke="#000" stroke-width="4.5"/>
<line x1="278.6" y1="1259.3" x2="278.6" y2="1269.8" stroke="#000" stroke-width="4.5"/>
<line x1="341.2" y1="1259.3" x2="341.2" y2="1269.8" stroke="#000" stroke-width="4.5"/>
<line x1="403.7" y1="1259.3" x2="403.7" y2="1269.8" stroke="#000" stroke-width="4.5"/>
<line x1="466.2" y1="1259.3" x2="466.2" y2="1272.9" stroke="#000" stroke-width="4.5"/>
<line x1="528.7" y1="1259.3" x2="528.7" y2="1269.8" stroke="#000" stroke-width="4.5"/>
<line x1="591.2" y1="1259.3" x2="591.2" y2="1269.8" stroke="#000" stroke-width="4.5"/>
<line x1="653.8" y1="1259.3" x2="653.8" y2="1269.8" stroke="#000" stroke-width="4.5"/>
<line x1="716.3" y1="1259.3" x2="716.3" y2="1269.8" stroke="#000" stroke-width="4.5"/>
<line x1="778.8" y1="1259.3" x2="778.8" y2="1272.9" stroke="#000" stroke-width="4.8"/>
<path d="M154.5 1259.2 L160 1259.2 L164 1257.6 L167 1259.2 L170 1259 L172.7 1256.2 L176 1259.2 L184 1259.2 L188 1258 L192 1259.2 L196 1258.2 L200 1259.2 L206 1259 L210 1257.6 L213 1256.4 L217 1257.4 L220 1257 L220 1257.8 L223.8 1257 L226.4 1256.2 L229.6 1257.8 L232.8 1255 L236 1255.7 L239.2 1255.2 L241.1 1257.5 L245.6 1256.5 L250.1 1255.7 L253.2 1252.4 L256.4 1253.7 L259.6 1253 L262.8 1252.1 L265.4 1246.6 L268.6 1247 L271.2 1246.6 L273.5 1252.1 L275.6 1247.5 L278.8 1246.6 L282.7 1242.4 L285.9 1243.5 L288.4 1239.4 L291 1237.1 L293.5 1234.2 L296.7 1233.5 L298.6 1234.5 L300.6 1225.8 L303.1 1225.8 L305.7 1225.3 L308.2 1220.4 L310.8 1217.2 L313.1 1214.3 L315.3 1207.6 L318.5 1205.1 L320 1195.5 L321.7 1196.1 L323.6 1200 L325.5 1185.3 L327.4 1181.4 L330.6 1177.6 L332.5 1170.6 L335.1 1161.6 L337.6 1152.7 L340.2 1143.1 L341.7 1134.8 L343 1129 L346 1126.4 L347.2 1115.6 L348.1 1107.9 L351.1 1101.5 L353 1090 L353 1086.1 L355.2 1068.9 L358.5 1065.7 L359.8 1054.2 L361.3 1038.8 L362.6 1024.8 L363.3 1016.1 L366.2 1019 L366.7 1009.5 L367.7 996.7 L368.4 983.9 L370 971.1 L372.6 963.2 L376 960.6 L376.7 948.1 L377.7 936 L380.8 931.8 L381.8 945.6 L382.8 971.1 L383.7 996.7 L384.1 1022.2 L384.6 1047.8 L385 1073.4 L385.4 1099.9 L385.2 1128.4 L385.7 1166.7 L386.2 1205.1 L387.5 1230.7 L388.8 1256.2 L390.1 1257.8 L396.5 1257.5 L404.1 1257 L407.3 1256 L411.8 1257 L420 1256.2 L425 1258 L440 1259 L470 1258.8 L500 1259.1 L520 1259 L520 1259.2 L535.3 1259.1 L545.6 1258.7 L558.4 1259.2 L573.7 1258.9 L578.2 1256.8 L580.7 1258.9 L589.1 1258.8 L592.9 1256.5 L596.1 1258.9 L609.5 1259.2 L621 1258.8 L623.8 1255.9 L626.8 1258.9 L641.5 1259.2 L661.9 1258.9 L665.8 1257.1 L669 1258.9 L686.2 1259.2 L705.4 1258.9 L720 1259.2 L725 1259.2 L741 1256.6 L745 1259 L760 1259 L771.5 1256.4 L775 1259 L778.8 1259" fill="none" stroke="#00B050" stroke-width="3.7" stroke-linejoin="round" stroke-linecap="round"/>
<path d="M155.2 1259.4 L500 1259.4 L520 1258.8 L520 1258.5 L527.7 1257.5 L532.8 1256.2 L535.3 1256 L536.4 1243.5 L537.3 1205.1 L538.2 1166.7 L538.9 1128.4 L539.8 1090 L540.4 1060.6 L541.1 1028.6 L542 990.3 L542.7 968.6 L543.6 957.7 L544.9 962.2 L546.2 965.8 L548.8 964.1 L550 973.7 L552.6 982.6 L554.2 991.6 L555.8 1001.8 L557.1 993.5 L558.3 994.1 L559.6 1006.9 L560.6 1015.2 L562.8 1021 L564.7 1019.7 L566.3 1016.5 L567.3 1028.6 L568.3 1041.4 L570.5 1038.2 L572.4 1041.4 L573.9 1050.4 L575 1067 L576 1074.6 L577.3 1064.4 L578.5 1059.3 L579.8 1073.4 L581.1 1092.5 L583.3 1095.1 L581.4 1090 L583.3 1095.1 L585.2 1100.2 L587.1 1109.2 L588.4 1120.7 L590.1 1128.4 L591.6 1134.8 L593.1 1143.7 L594.8 1151.4 L596.7 1160.3 L598.6 1169.3 L601.2 1177 L603.8 1185.9 L605.9 1194.9 L608.2 1196.8 L609.5 1203.8 L611 1209.6 L614 1210.8 L615.9 1216.6 L618.5 1221.7 L621 1222.4 L623.3 1226.2 L626.1 1230.7 L628.7 1231.3 L631.3 1235.1 L635.1 1239 L638.3 1240.3 L641.5 1242.8 L645.3 1244.1 L649.2 1246.3 L653 1248.3 L657.5 1249.2 L661.9 1251.1 L667.1 1252.4 L673.5 1254.3 L681.1 1255.6 L688.8 1256.6 L699 1257.5 L709.3 1258.2 L720 1258.8 L735 1259 L778.8 1259.2" fill="none" stroke="#C00000" stroke-width="3.9" stroke-linejoin="round" stroke-linecap="round"/>
<path d="M258.1 1071H179.9" stroke="#00B050" stroke-width="5.5" fill="none"/>
<path d="M165.1 1071L180.9 1063.1L180.9 1078.9Z" fill="#00B050"/>
<path d="M602.1 1067.4H680.3" stroke="#C00000" stroke-width="5.5" fill="none"/>
<path d="M695.1 1067.4L679.3 1059.5L679.3 1075.3Z" fill="#C00000"/>
<text x="7.3" y="752" class="pl">b</text>
<text class="g" text-anchor="end" transform="translate(131.4 815.1) scale(1 1.035)">0.3</text>
<text class="g" text-anchor="end" transform="translate(131.4 967.4) scale(1 1.035)">0.2</text>
<text class="g" text-anchor="end" transform="translate(131.4 1118.3) scale(1 1.035)">0.1</text>
<text class="g" text-anchor="end" transform="translate(131.4 1265.2) scale(1 1.035)">0</text>
<text class="r" text-anchor="middle" transform="translate(830.6 817.3) scale(1 1.035)">15</text>
<text class="r" text-anchor="middle" transform="translate(830.6 972.3) scale(1 1.035)">10</text>
<text class="r" text-anchor="middle" transform="translate(829.3 1121.5) scale(1 1.035)">5</text>
<text class="r" text-anchor="middle" transform="translate(830 1265.2) scale(1 1.035)">0</text>
<text text-anchor="middle" transform="translate(152.7 1329.3) scale(1 1.035)">1500</text>
<text text-anchor="middle" transform="translate(465.6 1329.3) scale(1 1.035)">1550</text>
<text text-anchor="middle" transform="translate(777.9 1329.3) scale(1 1.035)">1600</text>
<text x="208.1" y="1036.3" class="an g">Pump</text>
<text x="620.9" y="1037.5" class="an r">Probe</text>
<text x="31.4" y="1038.9" class="g" text-anchor="middle" transform="rotate(-90 31.4 1038.9)">Power (mW)</text>
<text x="912.8" y="1021.5" class="r" text-anchor="middle" transform="rotate(-90 912.8 1021.5)">Power (mW)</text>
<text x="466.1" y="1396.5" text-anchor="middle">Wavelength (nm)</text>
</g>
<g id="panel-d">
<rect x="1205.6" y="793.7" width="402" height="491.8" fill="none" stroke="#000" stroke-width="4.6"/>
<line x1="1193" y1="1285.5" x2="1205.6" y2="1285.5" stroke="#000" stroke-width="4.7"/>
<line x1="1193" y1="1203.5" x2="1205.6" y2="1203.5" stroke="#000" stroke-width="4.7"/>
<line x1="1193" y1="1121.6" x2="1205.6" y2="1121.6" stroke="#000" stroke-width="4.7"/>
<line x1="1193" y1="1039.6" x2="1205.6" y2="1039.6" stroke="#000" stroke-width="4.7"/>
<line x1="1193" y1="957.6" x2="1205.6" y2="957.6" stroke="#000" stroke-width="4.7"/>
<line x1="1193" y1="875.7" x2="1205.6" y2="875.7" stroke="#000" stroke-width="4.7"/>
<line x1="1193" y1="793.7" x2="1205.6" y2="793.7" stroke="#000" stroke-width="4.7"/>
<line x1="1205.6" y1="1285.5" x2="1205.6" y2="1296.8" stroke="#000" stroke-width="4.6"/>
<line x1="1245.8" y1="1285.5" x2="1245.8" y2="1293.7" stroke="#000" stroke-width="3.6"/>
<line x1="1286" y1="1285.5" x2="1286" y2="1293.7" stroke="#000" stroke-width="3.6"/>
<line x1="1326.2" y1="1285.5" x2="1326.2" y2="1293.7" stroke="#000" stroke-width="3.6"/>
<line x1="1366.4" y1="1285.5" x2="1366.4" y2="1293.7" stroke="#000" stroke-width="3.6"/>
<line x1="1406.6" y1="1285.5" x2="1406.6" y2="1296.8" stroke="#000" stroke-width="3.6"/>
<line x1="1446.8" y1="1285.5" x2="1446.8" y2="1293.7" stroke="#000" stroke-width="3.6"/>
<line x1="1487" y1="1285.5" x2="1487" y2="1293.7" stroke="#000" stroke-width="3.6"/>
<line x1="1527.2" y1="1285.5" x2="1527.2" y2="1293.7" stroke="#000" stroke-width="3.6"/>
<line x1="1567.4" y1="1285.5" x2="1567.4" y2="1293.7" stroke="#000" stroke-width="3.6"/>
<line x1="1607.6" y1="1285.5" x2="1607.6" y2="1296.8" stroke="#000" stroke-width="4.6"/>
<path d="M1205 1284.3 L1207 1284.3 L1209 1284.2 L1211 1284.2 L1213 1284.1 L1215.1 1284.1 L1217.1 1284 L1219.1 1283.9 L1221.1 1283.9 L1223.1 1283.8 L1225.1 1283.7 L1227.1 1283.6 L1229.2 1283.6 L1231.2 1283.5 L1233.2 1283.4 L1235.2 1283.3 L1237.2 1283.2 L1239.2 1283.1 L1241.2 1283 L1243.2 1282.9 L1245.2 1282.8 L1247.3 1282.7 L1249.3 1282.6 L1251.3 1282.5 L1253.3 1282.4 L1255.3 1282.3 L1257.3 1282.2 L1259.3 1282.1 L1261.3 1281.9 L1263.4 1281.8 L1265.4 1281.6 L1267.4 1281.5 L1269.4 1281.3 L1271.4 1281.2 L1273.4 1281.1 L1275.4 1280.9 L1277.5 1280.8 L1279.5 1280.6 L1281.5 1280.5 L1283.5 1280.4 L1285.5 1280.3 L1287.5 1280.1 L1289.5 1280 L1291.5 1279.9 L1293.5 1279.8 L1295.6 1279.6 L1297.6 1279.5 L1299.6 1279.3 L1301.6 1279.2 L1303.6 1279 L1305.6 1278.8 L1307.6 1278.7 L1309.7 1278.5 L1311.7 1278.3 L1313.7 1278.1 L1315.7 1277.8 L1317.7 1277.6 L1319.7 1277.3 L1321.7 1277.1 L1323.7 1276.8 L1325.8 1276.5 L1327.8 1276.2 L1329.8 1275.8 L1331.8 1275.5 L1333.8 1275.1 L1335.8 1274.8 L1337.8 1274.4 L1339.8 1273.9 L1341.8 1273.5 L1343.9 1272.9 L1345.9 1272.3 L1347.9 1271.6 L1349.9 1270.8 L1351.9 1270 L1353.9 1269 L1355.9 1268 L1358 1266.9 L1360 1265.8 L1362 1264.5 L1364 1263 L1366 1261.9 L1368 1258.5 L1370 1254.5 L1372 1250 L1374 1244.3 L1376.1 1237.5 L1378.1 1228.2 L1380.1 1218.2 L1382.1 1205.5 L1386.6 1140 L1388.2 1110 L1390 1079.5 L1391.3 1050 L1393.2 1010 L1394.8 963.6 L1396.5 918.2 L1398 886 L1399.3 868.5 L1400 862.5 L1400.8 860.2 L1401.6 862.5 L1402.3 868.5 L1403.6 886 L1405 918.2 L1407 963.6 L1408.4 1009 L1409.1 1022.7 L1411 1068.2 L1412.7 1113.6 L1415.6 1142 L1420.3 1175 L1422.3 1192.6 L1424.4 1207.4 L1426.4 1220.2 L1428.4 1231.3 L1430.4 1239.8 L1432.4 1246.6 L1434.4 1252.3 L1436.4 1256.8 L1438.5 1260.8 L1440.5 1264.2 L1442.5 1265.7 L1444.5 1267.9 L1446.5 1270 L1448.5 1271.4 L1450.5 1272.7 L1452.5 1273.8 L1454.5 1274.8 L1456.6 1275.7 L1458.6 1276.6 L1460.6 1277.4 L1462.6 1278 L1464.6 1278.6 L1466.6 1279.1 L1468.6 1279.6 L1470.7 1280 L1472.7 1280.5 L1474.7 1280.8 L1476.7 1281.2 L1478.7 1281.4 L1480.7 1281.6 L1482.7 1281.8 L1484.7 1282 L1486.8 1282.1 L1488.8 1282.3 L1490.8 1282.4 L1492.8 1282.5 L1494.8 1282.6 L1496.8 1282.7 L1498.8 1282.8 L1500.8 1282.8 L1502.8 1282.9 L1504.9 1283 L1506.9 1283 L1508.9 1283.1 L1510.9 1283.1 L1512.9 1283.2 L1514.9 1283.2 L1516.9 1283.3 L1519 1283.3 L1521 1283.4 L1523 1283.4 L1525 1283.5 L1527 1283.5 L1529 1283.5 L1531 1283.6 L1533 1283.6 L1535 1283.6 L1537.1 1283.7 L1539.1 1283.7 L1541.1 1283.7 L1543.1 1283.7 L1545.1 1283.8 L1547.1 1283.8 L1549.1 1283.8 L1551.2 1283.8 L1553.2 1283.8 L1555.2 1283.9 L1557.2 1283.9 L1559.2 1283.9 L1561.2 1283.9 L1563.2 1283.9 L1565.2 1284 L1567.2 1284 L1569.3 1284 L1571.3 1284 L1573.3 1284 L1575.3 1284 L1577.3 1284.1 L1579.3 1284.1 L1581.3 1284.1 L1583.3 1284.1 L1585.4 1284.1 L1587.4 1284.1 L1589.4 1284.1 L1591.4 1284.1 L1593.4 1284.1 L1595.4 1284.2 L1597.4 1284.2 L1599.5 1284.2 L1601.5 1284.2 L1603.5 1284.2 L1605.5 1284.2 L1607.5 1284.2" fill="none" stroke="#000" stroke-width="4.6" stroke-linejoin="round" stroke-linecap="round"/>
<path d="M1309.5 1081.4H1373.2" stroke="#000" stroke-width="5.5" fill="none"/>
<path d="M1388 1081.4L1372.2 1073.5L1372.2 1089.3Z" fill="#000"/>
<path d="M1495.1 1081.4H1432.8" stroke="#000" stroke-width="5.5" fill="none"/>
<path d="M1418 1081.4L1433.8 1073.5L1433.8 1089.3Z" fill="#000"/>
<g fill="url(#mk)" stroke="#C00000" stroke-width="2.7">
<circle cx="1205" cy="1284.3" r="6.9"/>
<circle cx="1207" cy="1284.3" r="6.9"/>
<circle cx="1209" cy="1284.2" r="6.9"/>
<circle cx="1211" cy="1284.2" r="6.9"/>
<circle cx="1213" cy="1284.1" r="6.9"/>
<circle cx="1215.1" cy="1284.1" r="6.9"/>
<circle cx="1217.1" cy="1284" r="6.9"/>
<circle cx="1219.1" cy="1283.9" r="6.9"/>
<circle cx="1221.1" cy="1283.9" r="6.9"/>
<circle cx="1223.1" cy="1283.8" r="6.9"/>
<circle cx="1225.1" cy="1283.7" r="6.9"/>
<circle cx="1227.1" cy="1283.6" r="6.9"/>
<circle cx="1229.2" cy="1283.6" r="6.9"/>
<circle cx="1231.2" cy="1283.5" r="6.9"/>
<circle cx="1233.2" cy="1283.4" r="6.9"/>
<circle cx="1235.2" cy="1283.3" r="6.9"/>
<circle cx="1237.2" cy="1283.2" r="6.9"/>
<circle cx="1239.2" cy="1283.1" r="6.9"/>
<circle cx="1241.2" cy="1283" r="6.9"/>
<circle cx="1243.2" cy="1282.9" r="6.9"/>
<circle cx="1245.2" cy="1282.8" r="6.9"/>
<circle cx="1247.3" cy="1282.7" r="6.9"/>
<circle cx="1249.3" cy="1282.6" r="6.9"/>
<circle cx="1251.3" cy="1282.5" r="6.9"/>
<circle cx="1253.3" cy="1282.4" r="6.9"/>
<circle cx="1255.3" cy="1282.3" r="6.9"/>
<circle cx="1257.3" cy="1282.2" r="6.9"/>
<circle cx="1259.3" cy="1282.1" r="6.9"/>
<circle cx="1261.3" cy="1281.9" r="6.9"/>
<circle cx="1263.4" cy="1281.8" r="6.9"/>
<circle cx="1265.4" cy="1281.6" r="6.9"/>
<circle cx="1267.4" cy="1281.5" r="6.9"/>
<circle cx="1269.4" cy="1281.3" r="6.9"/>
<circle cx="1271.4" cy="1281.2" r="6.9"/>
<circle cx="1273.4" cy="1281.1" r="6.9"/>
<circle cx="1275.4" cy="1280.9" r="6.9"/>
<circle cx="1277.5" cy="1280.8" r="6.9"/>
<circle cx="1279.5" cy="1280.6" r="6.9"/>
<circle cx="1281.5" cy="1280.5" r="6.9"/>
<circle cx="1283.5" cy="1280.4" r="6.9"/>
<circle cx="1285.5" cy="1280.3" r="6.9"/>
<circle cx="1287.5" cy="1280.1" r="6.9"/>
<circle cx="1289.5" cy="1280" r="6.9"/>
<circle cx="1291.5" cy="1279.9" r="6.9"/>
<circle cx="1293.5" cy="1279.8" r="6.9"/>
<circle cx="1295.6" cy="1279.6" r="6.9"/>
<circle cx="1297.6" cy="1279.5" r="6.9"/>
<circle cx="1299.6" cy="1279.3" r="6.9"/>
<circle cx="1301.6" cy="1279.2" r="6.9"/>
<circle cx="1303.6" cy="1279" r="6.9"/>
<circle cx="1305.6" cy="1278.8" r="6.9"/>
<circle cx="1307.6" cy="1278.7" r="6.9"/>
<circle cx="1309.7" cy="1278.5" r="6.9"/>
<circle cx="1311.7" cy="1278.3" r="6.9"/>
<circle cx="1313.7" cy="1278.1" r="6.9"/>
<circle cx="1315.7" cy="1277.8" r="6.9"/>
<circle cx="1317.7" cy="1277.6" r="6.9"/>
<circle cx="1319.7" cy="1277.3" r="6.9"/>
<circle cx="1321.7" cy="1277.1" r="6.9"/>
<circle cx="1323.7" cy="1276.8" r="6.9"/>
<circle cx="1325.8" cy="1276.5" r="6.9"/>
<circle cx="1327.8" cy="1276.2" r="6.9"/>
<circle cx="1329.8" cy="1275.8" r="6.9"/>
<circle cx="1331.8" cy="1275.5" r="6.9"/>
<circle cx="1333.8" cy="1275.1" r="6.9"/>
<circle cx="1335.8" cy="1274.8" r="6.9"/>
<circle cx="1337.8" cy="1274.4" r="6.9"/>
<circle cx="1339.8" cy="1273.9" r="6.9"/>
<circle cx="1341.8" cy="1273.5" r="6.9"/>
<circle cx="1343.9" cy="1272.9" r="6.9"/>
<circle cx="1345.9" cy="1272.3" r="6.9"/>
<circle cx="1347.9" cy="1271.6" r="6.9"/>
<circle cx="1349.9" cy="1270.8" r="6.9"/>
<circle cx="1351.9" cy="1270" r="6.9"/>
<circle cx="1353.9" cy="1269" r="6.9"/>
<circle cx="1355.9" cy="1268" r="6.9"/>
<circle cx="1358" cy="1266.9" r="6.9"/>
<circle cx="1360" cy="1265.8" r="6.9"/>
<circle cx="1362" cy="1264.5" r="6.9"/>
<circle cx="1364" cy="1263" r="6.9"/>
<circle cx="1366" cy="1261.9" r="6.9"/>
<circle cx="1368" cy="1258.5" r="6.9"/>
<circle cx="1370" cy="1254.5" r="6.9"/>
<circle cx="1372" cy="1250" r="6.9"/>
<circle cx="1374" cy="1244.3" r="6.9"/>
<circle cx="1376.1" cy="1237.5" r="6.9"/>
<circle cx="1378.1" cy="1228.2" r="6.9"/>
<circle cx="1380.1" cy="1218.2" r="6.9"/>
<circle cx="1382.1" cy="1205.5" r="6.9"/>
<circle cx="1384.1" cy="1185.8" r="6.9"/>
<circle cx="1386.1" cy="1155.3" r="6.9"/>
<circle cx="1388.1" cy="1108.5" r="6.9"/>
<circle cx="1390.2" cy="1050.6" r="6.9"/>
<circle cx="1392.2" cy="987.5" r="6.9"/>
<circle cx="1394.2" cy="934.1" r="6.9"/>
<circle cx="1396.2" cy="898" r="6.9"/>
<circle cx="1398.2" cy="878.4" r="6.9"/>
<circle cx="1400.2" cy="873.3" r="6.9"/>
<circle cx="1402.2" cy="880.9" r="6.9"/>
<circle cx="1404.2" cy="904" r="6.9"/>
<circle cx="1406.2" cy="933.5" r="6.9"/>
<circle cx="1408.3" cy="968.4" r="6.9"/>
<circle cx="1410.3" cy="1006.5" r="6.9"/>
<circle cx="1412.3" cy="1045.7" r="6.9"/>
<circle cx="1414.3" cy="1084.7" r="6.9"/>
<circle cx="1416.3" cy="1121.8" r="6.9"/>
<circle cx="1418.3" cy="1152.4" r="6.9"/>
<circle cx="1420.3" cy="1175" r="6.9"/>
<circle cx="1422.3" cy="1192.6" r="6.9"/>
<circle cx="1424.4" cy="1207.4" r="6.9"/>
<circle cx="1426.4" cy="1220.2" r="6.9"/>
<circle cx="1428.4" cy="1231.3" r="6.9"/>
<circle cx="1430.4" cy="1239.8" r="6.9"/>
<circle cx="1432.4" cy="1246.6" r="6.9"/>
<circle cx="1434.4" cy="1252.3" r="6.9"/>
<circle cx="1436.4" cy="1256.8" r="6.9"/>
<circle cx="1438.5" cy="1260.8" r="6.9"/>
<circle cx="1440.5" cy="1264.2" r="6.9"/>
<circle cx="1442.5" cy="1265.7" r="6.9"/>
<circle cx="1444.5" cy="1267.9" r="6.9"/>
<circle cx="1446.5" cy="1270" r="6.9"/>
<circle cx="1448.5" cy="1271.4" r="6.9"/>
<circle cx="1450.5" cy="1272.7" r="6.9"/>
<circle cx="1452.5" cy="1273.8" r="6.9"/>
<circle cx="1454.5" cy="1274.8" r="6.9"/>
<circle cx="1456.6" cy="1275.7" r="6.9"/>
<circle cx="1458.6" cy="1276.6" r="6.9"/>
<circle cx="1460.6" cy="1277.4" r="6.9"/>
<circle cx="1462.6" cy="1278" r="6.9"/>
<circle cx="1464.6" cy="1278.6" r="6.9"/>
<circle cx="1466.6" cy="1279.1" r="6.9"/>
<circle cx="1468.6" cy="1279.6" r="6.9"/>
<circle cx="1470.7" cy="1280" r="6.9"/>
<circle cx="1472.7" cy="1280.5" r="6.9"/>
<circle cx="1474.7" cy="1280.8" r="6.9"/>
<circle cx="1476.7" cy="1281.2" r="6.9"/>
<circle cx="1478.7" cy="1281.4" r="6.9"/>
<circle cx="1480.7" cy="1281.6" r="6.9"/>
<circle cx="1482.7" cy="1281.8" r="6.9"/>
<circle cx="1484.7" cy="1282" r="6.9"/>
<circle cx="1486.8" cy="1282.1" r="6.9"/>
<circle cx="1488.8" cy="1282.3" r="6.9"/>
<circle cx="1490.8" cy="1282.4" r="6.9"/>
<circle cx="1492.8" cy="1282.5" r="6.9"/>
<circle cx="1494.8" cy="1282.6" r="6.9"/>
<circle cx="1496.8" cy="1282.7" r="6.9"/>
<circle cx="1498.8" cy="1282.8" r="6.9"/>
<circle cx="1500.8" cy="1282.8" r="6.9"/>
<circle cx="1502.8" cy="1282.9" r="6.9"/>
<circle cx="1504.9" cy="1283" r="6.9"/>
<circle cx="1506.9" cy="1283" r="6.9"/>
<circle cx="1508.9" cy="1283.1" r="6.9"/>
<circle cx="1510.9" cy="1283.1" r="6.9"/>
<circle cx="1512.9" cy="1283.2" r="6.9"/>
<circle cx="1514.9" cy="1283.2" r="6.9"/>
<circle cx="1516.9" cy="1283.3" r="6.9"/>
<circle cx="1519" cy="1283.3" r="6.9"/>
<circle cx="1521" cy="1283.4" r="6.9"/>
<circle cx="1523" cy="1283.4" r="6.9"/>
<circle cx="1525" cy="1283.5" r="6.9"/>
<circle cx="1527" cy="1283.5" r="6.9"/>
<circle cx="1529" cy="1283.5" r="6.9"/>
<circle cx="1531" cy="1283.6" r="6.9"/>
<circle cx="1533" cy="1283.6" r="6.9"/>
<circle cx="1535" cy="1283.6" r="6.9"/>
<circle cx="1537.1" cy="1283.7" r="6.9"/>
<circle cx="1539.1" cy="1283.7" r="6.9"/>
<circle cx="1541.1" cy="1283.7" r="6.9"/>
<circle cx="1543.1" cy="1283.7" r="6.9"/>
<circle cx="1545.1" cy="1283.8" r="6.9"/>
<circle cx="1547.1" cy="1283.8" r="6.9"/>
<circle cx="1549.1" cy="1283.8" r="6.9"/>
<circle cx="1551.2" cy="1283.8" r="6.9"/>
<circle cx="1553.2" cy="1283.8" r="6.9"/>
<circle cx="1555.2" cy="1283.9" r="6.9"/>
<circle cx="1557.2" cy="1283.9" r="6.9"/>
<circle cx="1559.2" cy="1283.9" r="6.9"/>
<circle cx="1561.2" cy="1283.9" r="6.9"/>
<circle cx="1563.2" cy="1283.9" r="6.9"/>
<circle cx="1565.2" cy="1284" r="6.9"/>
<circle cx="1567.2" cy="1284" r="6.9"/>
<circle cx="1569.3" cy="1284" r="6.9"/>
<circle cx="1571.3" cy="1284" r="6.9"/>
<circle cx="1573.3" cy="1284" r="6.9"/>
<circle cx="1575.3" cy="1284" r="6.9"/>
<circle cx="1577.3" cy="1284.1" r="6.9"/>
<circle cx="1579.3" cy="1284.1" r="6.9"/>
<circle cx="1581.3" cy="1284.1" r="6.9"/>
<circle cx="1583.3" cy="1284.1" r="6.9"/>
<circle cx="1585.4" cy="1284.1" r="6.9"/>
<circle cx="1587.4" cy="1284.1" r="6.9"/>
<circle cx="1589.4" cy="1284.1" r="6.9"/>
<circle cx="1591.4" cy="1284.1" r="6.9"/>
<circle cx="1593.4" cy="1284.1" r="6.9"/>
<circle cx="1595.4" cy="1284.2" r="6.9"/>
<circle cx="1597.4" cy="1284.2" r="6.9"/>
<circle cx="1599.5" cy="1284.2" r="6.9"/>
<circle cx="1601.5" cy="1284.2" r="6.9"/>
<circle cx="1603.5" cy="1284.2" r="6.9"/>
<circle cx="1605.5" cy="1284.2" r="6.9"/>
<circle cx="1607.5" cy="1284.2" r="6.9"/>
</g>
<text x="951.7" y="751.8" class="pl">d</text>
<text text-anchor="end" transform="translate(1181.4 808.2) scale(1 1.035)">1.2<tspan class="mu" dx="1.2" dy="-2.3">×</tspan><tspan dx="1.2" dy="2.3">10</tspan><tspan class="su" dy="-11.7">6</tspan></text>
<text text-anchor="end" transform="translate(1181.4 890.2) scale(1 1.035)">1.0<tspan class="mu" dx="1.2" dy="-2.3">×</tspan><tspan dx="1.2" dy="2.3">10</tspan><tspan class="su" dy="-11.7">6</tspan></text>
<text text-anchor="end" transform="translate(1181.4 973.7) scale(1 1.035)">8.0<tspan class="mu" dx="1.2" dy="-2.3">×</tspan><tspan dx="1.2" dy="2.3">10</tspan><tspan class="su" dy="-11.7">6</tspan></text>
<text text-anchor="end" transform="translate(1181.4 1048.4) scale(1 1.035)">6.0<tspan class="mu" dx="1.2" dy="-2.3">×</tspan><tspan dx="1.2" dy="2.3">10</tspan><tspan class="su" dy="-11.7">6</tspan></text>
<text text-anchor="end" transform="translate(1181.4 1135.1) scale(1 1.035)">4.0<tspan class="mu" dx="1.2" dy="-2.3">×</tspan><tspan dx="1.2" dy="2.3">10</tspan><tspan class="su" dy="-11.7">6</tspan></text>
<text text-anchor="end" transform="translate(1181.4 1214.8) scale(1 1.035)">2.0<tspan class="mu" dx="1.2" dy="-2.3">×</tspan><tspan dx="1.2" dy="2.3">10</tspan><tspan class="su" dy="-11.7">6</tspan></text>
<text text-anchor="end" transform="translate(1168.7 1294.3) scale(1 1.035)">0</text>
<text text-anchor="middle" transform="translate(1205.2 1343.6) scale(1 1.035)">220</text>
<text text-anchor="middle" transform="translate(1406.7 1343.6) scale(1 1.035)">225</text>
<text text-anchor="middle" transform="translate(1607.5 1343.6) scale(1 1.035)">230</text>
<text class="an" transform="translate(1444.1 1050.5) scale(1 1.015)">520 fs</text>
<text x="1009.8" y="1044.1" text-anchor="middle" transform="rotate(-90 1009.8 1044.1)">Photon counts (/s)</text>
<text x="1407.2" y="1396" text-anchor="middle">Time delay (ps)</text>
</g>
</svg>
</body>
</html>
